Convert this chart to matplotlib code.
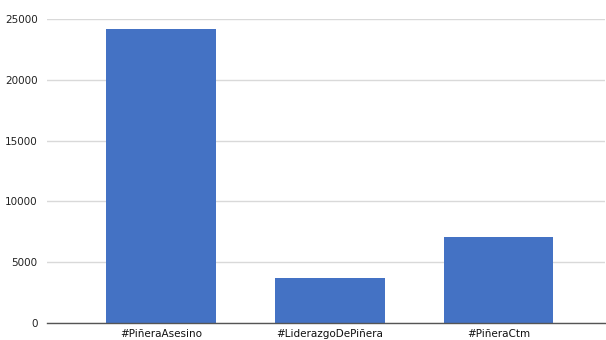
import matplotlib
matplotlib.use('Agg')
import matplotlib.pyplot as plt

HASHTAGS = ['#PiñeraAsesino', '#LiderazgoDePiñera', '#PiñeraCtm']
COUNTS = [24200, 3700, 7050]
YTICKS = [0, 5000, 10000, 15000, 20000, 25000]

fig = plt.figure(figsize=(6.06, 3.4), dpi=100)
ax = fig.add_axes([0.078, 0.05, 0.92, 0.894])

ax.bar(range(len(HASHTAGS)), COUNTS, width=0.65, color='#4472c4', zorder=3)
ax.set_xlim(-0.675, 2.63)
ax.set_ylim(0, 25000)
ax.set_yticks(YTICKS)
ax.set_yticklabels([str(t) for t in YTICKS], fontsize=7.5, color='#222222')
ax.set_xticks(range(len(HASHTAGS)))
ax.set_xticklabels(HASHTAGS, fontsize=7.5, color='#111111')
ax.yaxis.grid(True, color='#d9d9d9', linewidth=1, zorder=0)
ax.tick_params(axis='y', length=0, pad=7)
ax.tick_params(axis='x', length=0, pad=4)
for side in ['left', 'right', 'top']:
    ax.spines[side].set_visible(False)
ax.spines['bottom'].set_color('#555555')
ax.spines['bottom'].set_linewidth(1)
ax.spines['bottom'].set_zorder(4)

plt.savefig('out.png', dpi=100)
